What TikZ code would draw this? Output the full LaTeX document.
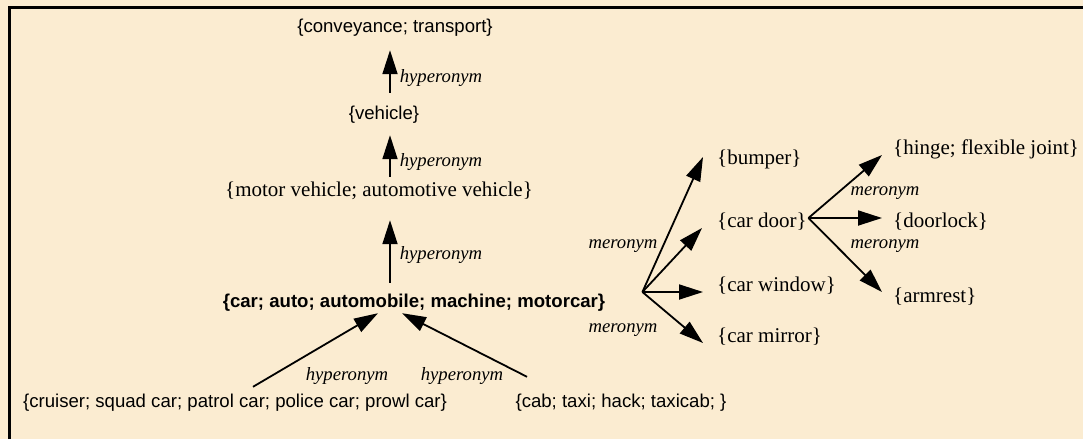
\documentclass[tikz,border=0pt]{standalone}
\usepackage{fontspec}
\setmainfont{Liberation Serif}
\newfontfamily\arialfont{Liberation Sans}
\usetikzlibrary{arrows.meta}
\definecolor{paper}{RGB}{251,236,209}

\begin{document}
\begin{tikzpicture}[x=1pt,y=-1pt,
	syn/.style={font=\arialfont\fontsize{18.6}{22}\selectfont,inner sep=0pt,text height=13pt,text depth=4pt},
	tsyn/.style={font=\fontsize{21}{25}\selectfont,inner sep=0pt,text height=14pt,text depth=5pt,anchor=west},
	lab/.style={font=\itshape\fontsize{18.7}{22}\selectfont,inner sep=0pt},
	rel/.style={draw,line width=1.8pt,-{Triangle[length=24pt,width=15pt]}}]
	\useasboundingbox (0,0) rectangle (1083,439);
	\fill[paper] (0,0) rectangle (1083,439);
	\draw[line width=3pt] (9,439) -- (9,7) -- (1083,7);
	% hyperonym chain
	\coordinate (spine) at (390,0);
	\node[syn] (conveyance) at (395,28) {\{conveyance; transport\}};
	\node[syn] (vehicle) at (384,115) {\{vehicle\}};
	\node[tsyn,anchor=center] (motor) at (379,192) {\{motor vehicle; automotive vehicle\}};
	\node[syn,font=\arialfont\bfseries\fontsize{18.6}{22}\selectfont] (car) at (414,303) {\{car; auto; automobile; machine; motorcar\}};
	\node[syn] (cruiser) at (235,403) {\{cruiser; squad car; patrol car; police car; prowl car\}};
	\node[syn] (cab) at (621,403) {\{cab; taxi; hack; taxicab; \}};
	% parts
	\node[tsyn] (bumper) at (717,160) {\{bumper\}};
	\node[tsyn] (door) at (717,223) {\{car door\}};
	\node[tsyn] (window) at (717,287) {\{car window\}};
	\node[tsyn] (mirror) at (717,338) {\{car mirror\}};
	\node[tsyn] (hinge) at (893,150) {\{hinge; flexible joint\}};
	\node[tsyn] (doorlock) at (893,223) {\{doorlock\}};
	\node[tsyn] (armrest) at (893,298) {\{armrest\}};
	\coordinate (carfan) at ([xshift=37pt,yshift=11pt]car.east);
	\coordinate (doorfan) at ([xshift=1.5pt,yshift=5pt]door.east);

	\draw[rel,shorten <=13.5pt,shorten >=13.5pt] (vehicle.north -| spine) -- (conveyance.south -| spine);
	\draw[rel,shorten <=5.5pt,shorten >=11.5pt] (motor.north -| spine) -- (vehicle.south -| spine);
	\draw[rel,shorten <=11.5pt,shorten >=18.5pt] (car.north -| spine) -- (motor.south -| spine);
	\draw[rel] ([xshift=18pt,yshift=7.5pt]cruiser.north) -- ([xshift=-36pt,yshift=-1.5pt]car.south);
	\draw[rel] ([xshift=-94pt,yshift=17.5pt]cab.north) -- ([xshift=-12pt,yshift=-1.5pt]car.south);

	\draw[rel] (carfan) -- ([xshift=-14pt,yshift=3pt]bumper.west);
	\draw[rel] (carfan) -- ([xshift=-15pt,yshift=-5pt]door.west);
	\draw[rel] (carfan) -- ([xshift=-14pt,yshift=-5pt]window.west);
	\draw[rel] (carfan) -- ([xshift=-14pt,yshift=-5pt]mirror.west);
	\draw[rel] (doorfan) -- ([xshift=-11pt,yshift=-5pt]hinge.west);
	\draw[rel] (doorfan) -- ([xshift=-11pt,yshift=5pt]doorlock.west);
	\draw[rel] (doorfan) -- ([xshift=-11pt,yshift=6pt]armrest.west);

	\node[lab] (hyp1) at (441,78) {hyperonym};
	\node[lab] (hyp2) at (441,162) {hyperonym};
	\node[lab] (hyp3) at (441,255) {hyperonym};
	\node[lab] (hyp4) at (347,376) {hyperonym};
	\node[lab] (hyp5) at (462,376) {hyperonym};
	\node[lab] (mer1) at (623,246) {meronym};
	\node[lab] (mer2) at (623,330) {meronym};
	\node[lab] (mer3) at (885,193) {meronym};
	\node[lab] (mer4) at (885,246) {meronym};
\end{tikzpicture}
\end{document}
